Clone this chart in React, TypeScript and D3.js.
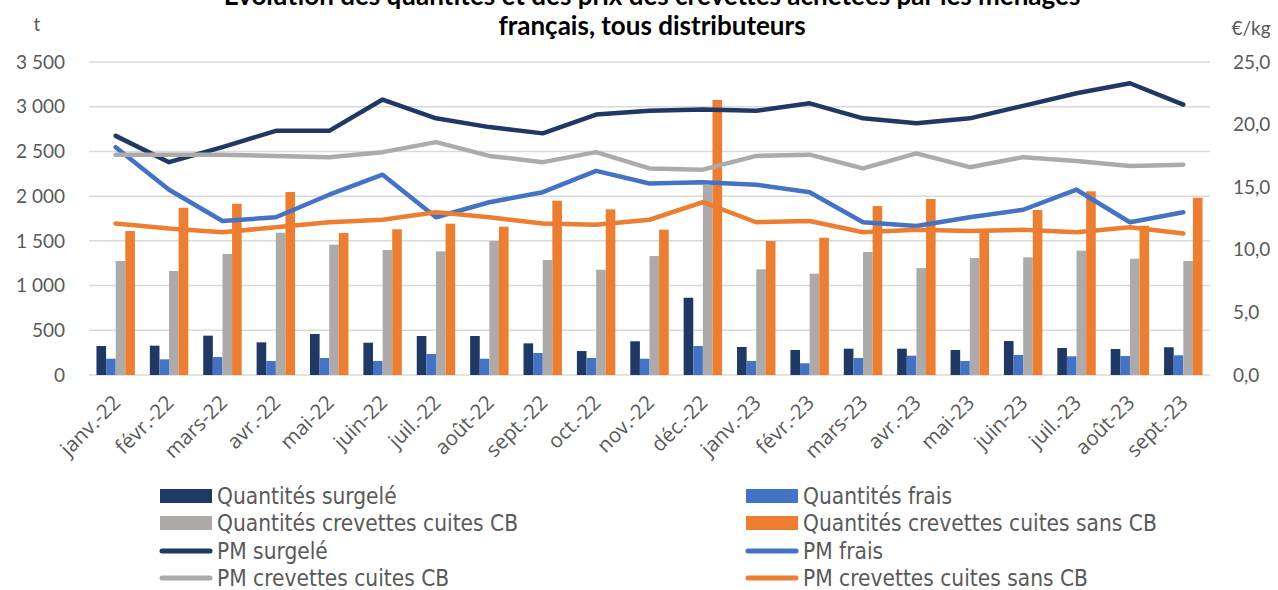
import * as d3 from "d3";

// mois
const months = [
  "janv.-22", "févr.-22", "mars-22", "avr.-22", "mai-22", "juin-22", "juil.-22",
  "août-22", "sept.-22", "oct.-22", "nov.-22", "déc.-22", "janv.-23", "févr.-23",
  "mars-23", "avr.-23", "mai-23", "juin-23", "juil.-23", "août-23", "sept.-23",
];

// quantités (t) - axe gauche
const qSurgele = [324, 328, 440, 365, 458, 361, 436, 436, 354, 268, 377, 864, 313, 280, 294, 294, 280, 380, 302, 291, 310];
const qFrais = [182, 175, 201, 157, 190, 157, 235, 182, 246, 190, 182, 324, 157, 131, 190, 216, 157, 224, 209, 212, 220];
const qCuitesCB = [1275, 1163, 1353, 1591, 1457, 1398, 1383, 1498, 1286, 1177, 1330, 2124, 1182, 1133, 1375, 1196, 1308, 1316, 1390, 1300, 1275];
const qCuitesSansCB = [1610, 1870, 1915, 2046, 1588, 1629, 1692, 1658, 1949, 1852, 1625, 3075, 1498, 1535, 1889, 1968, 1602, 1845, 2054, 1669, 1982];

// prix moyens (€/kg) - axe droit
const pmSurgele = [19.1, 17.0, 18.2, 19.5, 19.5, 22.0, 20.5, 19.8, 19.3, 20.8, 21.1, 21.2, 21.1, 21.7, 20.5, 20.1, 20.5, 21.5, 22.5, 23.3, 21.6];
const pmFrais = [18.2, 14.8, 12.3, 12.6, 14.4, 16.0, 12.6, 13.8, 14.6, 16.3, 15.3, 15.4, 15.2, 14.6, 12.2, 11.9, 12.6, 13.2, 14.8, 12.2, 13.0];
const pmCuitesCB = [17.6, 17.6, 17.6, 17.5, 17.4, 17.8, 18.6, 17.5, 17.0, 17.8, 16.5, 16.4, 17.5, 17.6, 16.5, 17.7, 16.6, 17.4, 17.1, 16.7, 16.8];
const pmCuitesSansCB = [12.1, 11.7, 11.4, 11.8, 12.2, 12.4, 13.0, 12.6, 12.1, 12.0, 12.4, 13.8, 12.2, 12.3, 11.4, 11.6, 11.5, 11.6, 11.4, 11.8, 11.3];

const leftTicks = [0, 500, 1000, 1500, 2000, 2500, 3000, 3500];
const rightTicks = [0, 5, 10, 15, 20, 25];

const barSeries = [
  { name: "Quantités surgelé", values: qSurgele, color: "#203864" },
  { name: "Quantités frais", values: qFrais, color: "#4472c4" },
  { name: "Quantités crevettes cuites CB", values: qCuitesCB, color: "#aeaaaa" },
  { name: "Quantités crevettes cuites sans CB", values: qCuitesSansCB, color: "#ed7d31" },
];
const lineSeries = [
  { name: "PM surgelé", values: pmSurgele, color: "#203864" },
  { name: "PM frais", values: pmFrais, color: "#4472c4" },
  { name: "PM crevettes cuites CB", values: pmCuitesCB, color: "#aeaaaa" },
  { name: "PM crevettes cuites sans CB", values: pmCuitesSansCB, color: "#ed7d31" },
];

const W = 1278;
const H = 590;
const plot = { left: 89, right: 1210, top: 62, bottom: 375 };
const axisFont = "Lato, 'Noto Sans', sans-serif";
const labelFont = "'Open Sans', Lato, sans-serif";
const legendFont = "'Liberation Sans Narrow', 'DejaVu Sans Condensed', sans-serif";

export default function App() {
  const x = d3.scaleBand<string>().domain(months).range([plot.left, plot.right]).paddingInner(0.28).paddingOuter(0.14);
  const xInner = d3.scaleBand<number>().domain([0, 1, 2, 3]).range([0, x.bandwidth()]);
  const yL = d3.scaleLinear().domain([0, 3500]).range([plot.bottom, plot.top]);
  const yR = d3.scaleLinear().domain([0, 25]).range([plot.bottom, plot.top]);
  const cx = (m: string) => (x(m) as number) + x.bandwidth() / 2;

  const line = (vals: number[]) =>
    d3.line<number>().x((_, i) => cx(months[i])).y((v) => yR(v))(vals) as string;

  const fmtL = (v: number) => (v >= 1000 ? `${Math.floor(v / 1000)} ${String(v % 1000).padStart(3, "0")}` : String(v));
  const fmtR = (v: number) => v.toFixed(1).replace(".", ",");

  const legendItems = [...barSeries.map((s) => ({ ...s, kind: "bar" })), ...lineSeries.map((s) => ({ ...s, kind: "line" }))];
  const legendRowY = [496, 523, 551, 578];
  const legendColX = [160, 746];

  return (
    <svg width={W} height={H} style={{ position: "absolute", left: 0, top: 0, background: "#fff" }}>
      {/* titre */}
      <text x={652} y={5} textAnchor="middle" fontFamily={axisFont} fontWeight={700} fontSize={26} fill="#000">
        Évolution des quantités et des prix des crevettes achetées par les ménages
      </text>
      <text x={652} y={35} textAnchor="middle" fontFamily={axisFont} fontWeight={700} fontSize={26} fill="#000">
        français, tous distributeurs
      </text>

      {/* grille */}
      {leftTicks.map((t) => (
        <line key={t} x1={plot.left} x2={plot.right} y1={yL(t)} y2={yL(t)} stroke="#d9d9d9" strokeWidth={1.5} />
      ))}

      {/* unités */}
      <text x={37} y={31} textAnchor="middle" fontFamily={axisFont} fontSize={19} fill="#595959">t</text>
      <text x={1251} y={35} textAnchor="middle" fontFamily={axisFont} fontSize={19} fill="#595959">€/kg</text>

      {leftTicks.map((t) => (
        <text key={t} x={65} y={yL(t)} dy="0.35em" textAnchor="end" fontFamily={axisFont} fontSize={19} fill="#595959">
          {fmtL(t)}
        </text>
      ))}
      {rightTicks.map((t) => (
        <text key={t} x={1233} y={yR(t)} dy="0.35em" textAnchor="start" fontFamily={axisFont} fontSize={19} fill="#595959">
          {fmtR(t)}
        </text>
      ))}

      {/* barres */}
      {barSeries.map((s, si) => (
        <g key={s.name}>
          {s.values.map((v, i) => (
            <rect
              key={i}
              x={(x(months[i]) as number) + (xInner(si) as number)}
              y={yL(v)}
              width={xInner.bandwidth()}
              height={yL(0) - yL(v)}
              fill={s.color}
            />
          ))}
        </g>
      ))}

      {/* courbes */}
      {lineSeries.map((s) => (
        <path key={s.name} d={line(s.values)} fill="none" stroke={s.color} strokeWidth={4.5} strokeLinejoin="round" strokeLinecap="round" />
      ))}

      {/* étiquettes x */}
      {months.map((m) => (
        <text
          key={m}
          transform={`translate(${cx(m) + 6},${404}) rotate(-45)`}
          textAnchor="end"
          fontFamily={labelFont}
          fontSize={20.5}
          fill="#595959"
        >
          {m}
        </text>
      ))}

      {/* légende */}
      {legendItems.map((it, k) => {
        const row = Math.floor(k / 2);
        const col = k % 2;
        const lx = legendColX[col];
        const ly = legendRowY[row];
        return (
          <g key={it.name}>
            {it.kind === "bar" ? (
              <rect x={lx} y={ly - 7} width={52} height={14} fill={it.color} />
            ) : (
              <line x1={lx + 2} x2={lx + 50} y1={ly} y2={ly} stroke={it.color} strokeWidth={5} strokeLinecap="round" />
            )}
            <text x={lx + 57} y={ly} dy="0.35em" fontFamily={legendFont} fontSize={22.5} fill="#595959">
              {it.name}
            </text>
          </g>
        );
      })}
    </svg>
  );
}
